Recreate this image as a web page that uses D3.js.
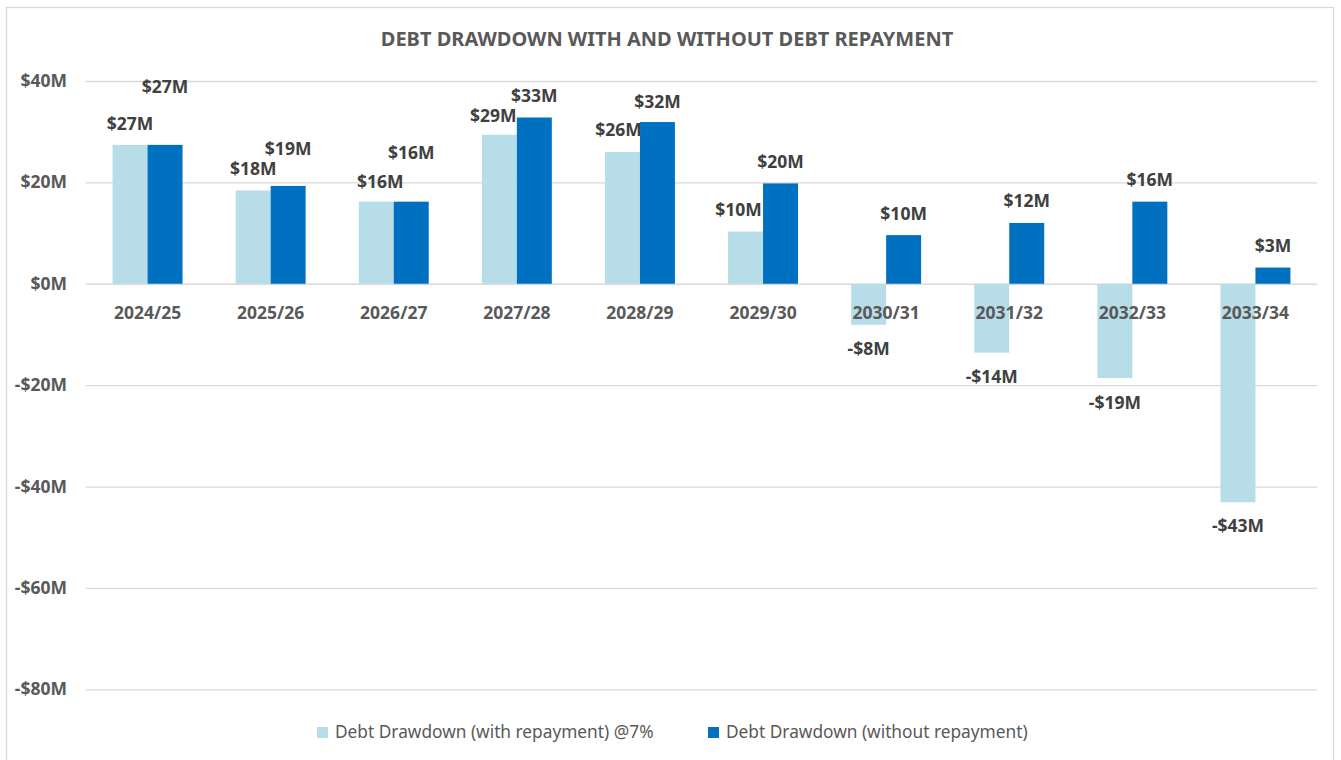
<!DOCTYPE html>
<html>
<head>
<meta charset="utf-8">
<script src="https://cdn.jsdelivr.net/npm/d3@7"></script>
<style>
  html, body { margin: 0; padding: 0; background: #ffffff; }
  svg { display: block; }
  text { font-family: "Noto Sans", "Open Sans", sans-serif; }
</style>
</head>
<body>
<svg id="chart" width="1341" height="760"></svg>
<script>
// Fiscal years on the category axis
const years = ["2024/25", "2025/26", "2026/27", "2027/28", "2028/29",
               "2029/30", "2030/31", "2031/32", "2032/33", "2033/34"];

// Debt drawdown in $M
const withRepayment    = [27.4, 18.4, 16.2, 29.4, 26.0, 10.3, -8.1, -13.6, -18.6, -43.1];
const withoutRepayment = [27.4, 19.3, 16.2, 32.8, 31.9, 19.8, 9.6, 12.0, 16.2, 3.2];

const seriesNames = ["Debt Drawdown (with repayment) @7%", "Debt Drawdown (without repayment)"];

// Value axis ticks ($M)
const yTicks = [40, 20, 0, -20, -40, -60, -80];

// Hand-placed data-label offsets in px [dx, dy] (some labels were dragged off their bars)
const nudgeWith    = [[0, 1], [0, 0], [4, 2], [-6, 3], [-4, 0], [-7, 0], [0, 0], [0, 0], [0, 0], [0, -1]];
const nudgeWithout = [[0, -36], [0, -15], [0, -27], [0, 0], [0, 1], [0, 0], [0, 0], [0, 0], [0, 0], [0, 0]];

const colors = ["#b7dde8", "#0070c0"];
const W = 1341, H = 760;
const plot = { left: 86, right: 1317, top: 81, bottom: 689.3 };

const svg = d3.select("#chart");

// Outer chart frame
svg.append("rect")
  .attr("x", 6.5).attr("y", 7.5)
  .attr("width", 1327).attr("height", 770)
  .attr("fill", "#ffffff")
  .attr("stroke", "#d9d9d9").attr("stroke-width", 1.3);

const x0 = d3.scaleBand().domain(years).range([plot.left, plot.right]).padding(0);
const gapWidth = 1.52;
const barW = x0.step() / (2 + gapWidth);
const x1 = d3.scaleBand().domain([0, 1]).range([0, 2 * barW]);
const groupOffset = (x0.bandwidth() - 2 * barW) / 2;

const y = d3.scaleLinear().domain([-80, 40]).range([plot.bottom, plot.top]);

// Horizontal gridlines with tick labels
const yAxis = d3.axisLeft(y)
  .tickValues(yTicks)
  .tickSize(-(plot.right - plot.left))
  .tickPadding(19)
  .tickFormat(d => (d < 0 ? "-$" : "$") + Math.abs(d) + "M");

const yg = svg.append("g")
  .attr("transform", `translate(${plot.left},0)`)
  .call(yAxis);
yg.select(".domain").remove();
yg.selectAll(".tick line").attr("stroke", "#d9d9d9").attr("stroke-width", 1.3);
yg.selectAll(".tick text")
  .attr("fill", "#595959")
  .style("font-size", "17.5px")
  .style("font-weight", "bold");

// Bars
const seriesData = [withRepayment, withoutRepayment];
const groups = svg.append("g");
seriesData.forEach((vals, s) => {
  groups.selectAll(null)
    .data(vals)
    .enter()
    .append("rect")
    .attr("x", (d, i) => x0(years[i]) + groupOffset + x1(s))
    .attr("width", barW)
    .attr("y", d => y(Math.max(0, d)))
    .attr("height", d => Math.abs(y(d) - y(0)))
    .attr("fill", colors[s]);
});

// Category labels sit just under the zero line, over the bars
const xAxis = d3.axisBottom(x0).tickSize(0).tickPadding(0);
const xg = svg.append("g")
  .attr("transform", `translate(0,${y(0)})`)
  .call(xAxis);
xg.select(".domain").remove();
xg.selectAll(".tick text")
  .attr("y", 35).attr("dy", 0)
  .attr("fill", "#595959")
  .style("font-size", "17.5px")
  .style("font-weight", "bold");

// Data labels
const fmt = v => (v < 0 ? "-$" : "$") + d3.format(".0f")(Math.abs(v)) + "M";
const nudges = [nudgeWith, nudgeWithout];
seriesData.forEach((vals, s) => {
  svg.append("g").selectAll("text")
    .data(vals)
    .enter()
    .append("text")
    .attr("x", (d, i) => x0(years[i]) + groupOffset + x1(s) + barW / 2 + nudges[s][i][0])
    .attr("y", (d, i) => (d >= 0 ? y(d) - 15.5 : y(d) + 30.5) + nudges[s][i][1])
    .attr("text-anchor", "middle")
    .attr("fill", "#404040")
    .style("font-size", "17.5px")
    .style("font-weight", "bold")
    .text(d => fmt(d));
});

// Title
svg.append("text")
  .attr("x", 667).attr("y", 46)
  .attr("text-anchor", "middle")
  .attr("fill", "#595959")
  .style("font-size", "20px")
  .style("font-weight", "bold")
  .text("DEBT DRAWDOWN WITH AND WITHOUT DEBT REPAYMENT");

// Legend
const legendX = [317, 708];
const legend = svg.append("g");
seriesNames.forEach((name, s) => {
  legend.append("rect")
    .attr("x", legendX[s]).attr("y", 727)
    .attr("width", 11).attr("height", 11)
    .attr("fill", colors[s]);
  legend.append("text")
    .attr("x", legendX[s] + 18).attr("y", 737.5)
    .attr("fill", "#595959")
    .style("font-size", "17.3px")
    .text(name);
});
</script>
</body>
</html>
